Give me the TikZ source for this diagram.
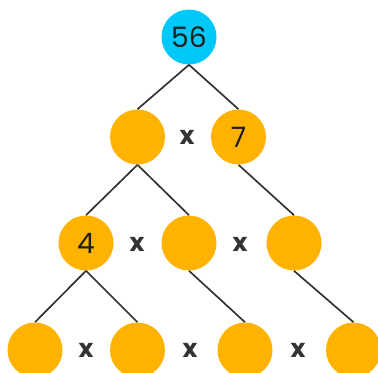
\documentclass[tikz,border=0pt]{standalone}
\usepackage{fontspec}
\setmainfont{Poppins}
\usepackage{tikz}
\usetikzlibrary{positioning}
\definecolor{rootblue}{HTML}{00C8F8}
\definecolor{factororange}{HTML}{FFB300}
\definecolor{linegrey}{HTML}{333333}
\definecolor{textdark}{HTML}{1E1E1E}
\tikzset{
  rootnode/.style={
    circle, fill=rootblue, minimum size=13.75mm, inner sep=0pt,
    font=\fontsize{20}{24}\selectfont, text=textdark
  },
  factornode/.style={
    circle, fill=factororange, minimum size=13.75mm, inner sep=0pt,
    font=\fontsize{20}{24}\selectfont, text=textdark
  },
  timessign/.style={
    font=\fontsize{18}{22}\selectfont\bfseries, text=linegrey, inner sep=0pt
  },
  branch/.style={
    line width=1.2pt, color=linegrey
  },
}
\begin{document}
\begin{tikzpicture}[x=0.25mm, y=-0.25mm]
  \clip (0,0) rectangle (378,372);

  %% Root
  \node[rootnode] (root) at (189,37) {56};

  %% Second row
  \node[factornode] (a) at (137.5,137) {};
  \node[factornode] (b) at (238.5,137) {7};
  \node[timessign] (ab) at (187,137) {x};

  %% Third row
  \node[factornode] (c) at (86,243) {4};
  \node[factornode] (d) at (189,243) {};
  \node[factornode] (e) at (294,243) {};
  \node[timessign] (cd) at (137,244) {x};
  \node[timessign] (de) at (240,244) {x};

  %% Fourth row
  \node[factornode] (f) at (35,350) {};
  \node[factornode] (g) at (137.5,350) {};
  \node[factornode] (h) at (245,350) {};
  \node[factornode] (i) at (353.5,350) {};
  \node[timessign] (fg) at (86,350) {x};
  \node[timessign] (gh) at (190,350) {x};
  \node[timessign] (hi) at (298,350) {x};

  %% Branches
  \foreach \u/\v in {root/a, root/b, a/c, a/d, b/e, c/f, c/g, d/h, e/i}
    \draw[branch] (\u.south) -- (\v.north);
\end{tikzpicture}
\end{document}
